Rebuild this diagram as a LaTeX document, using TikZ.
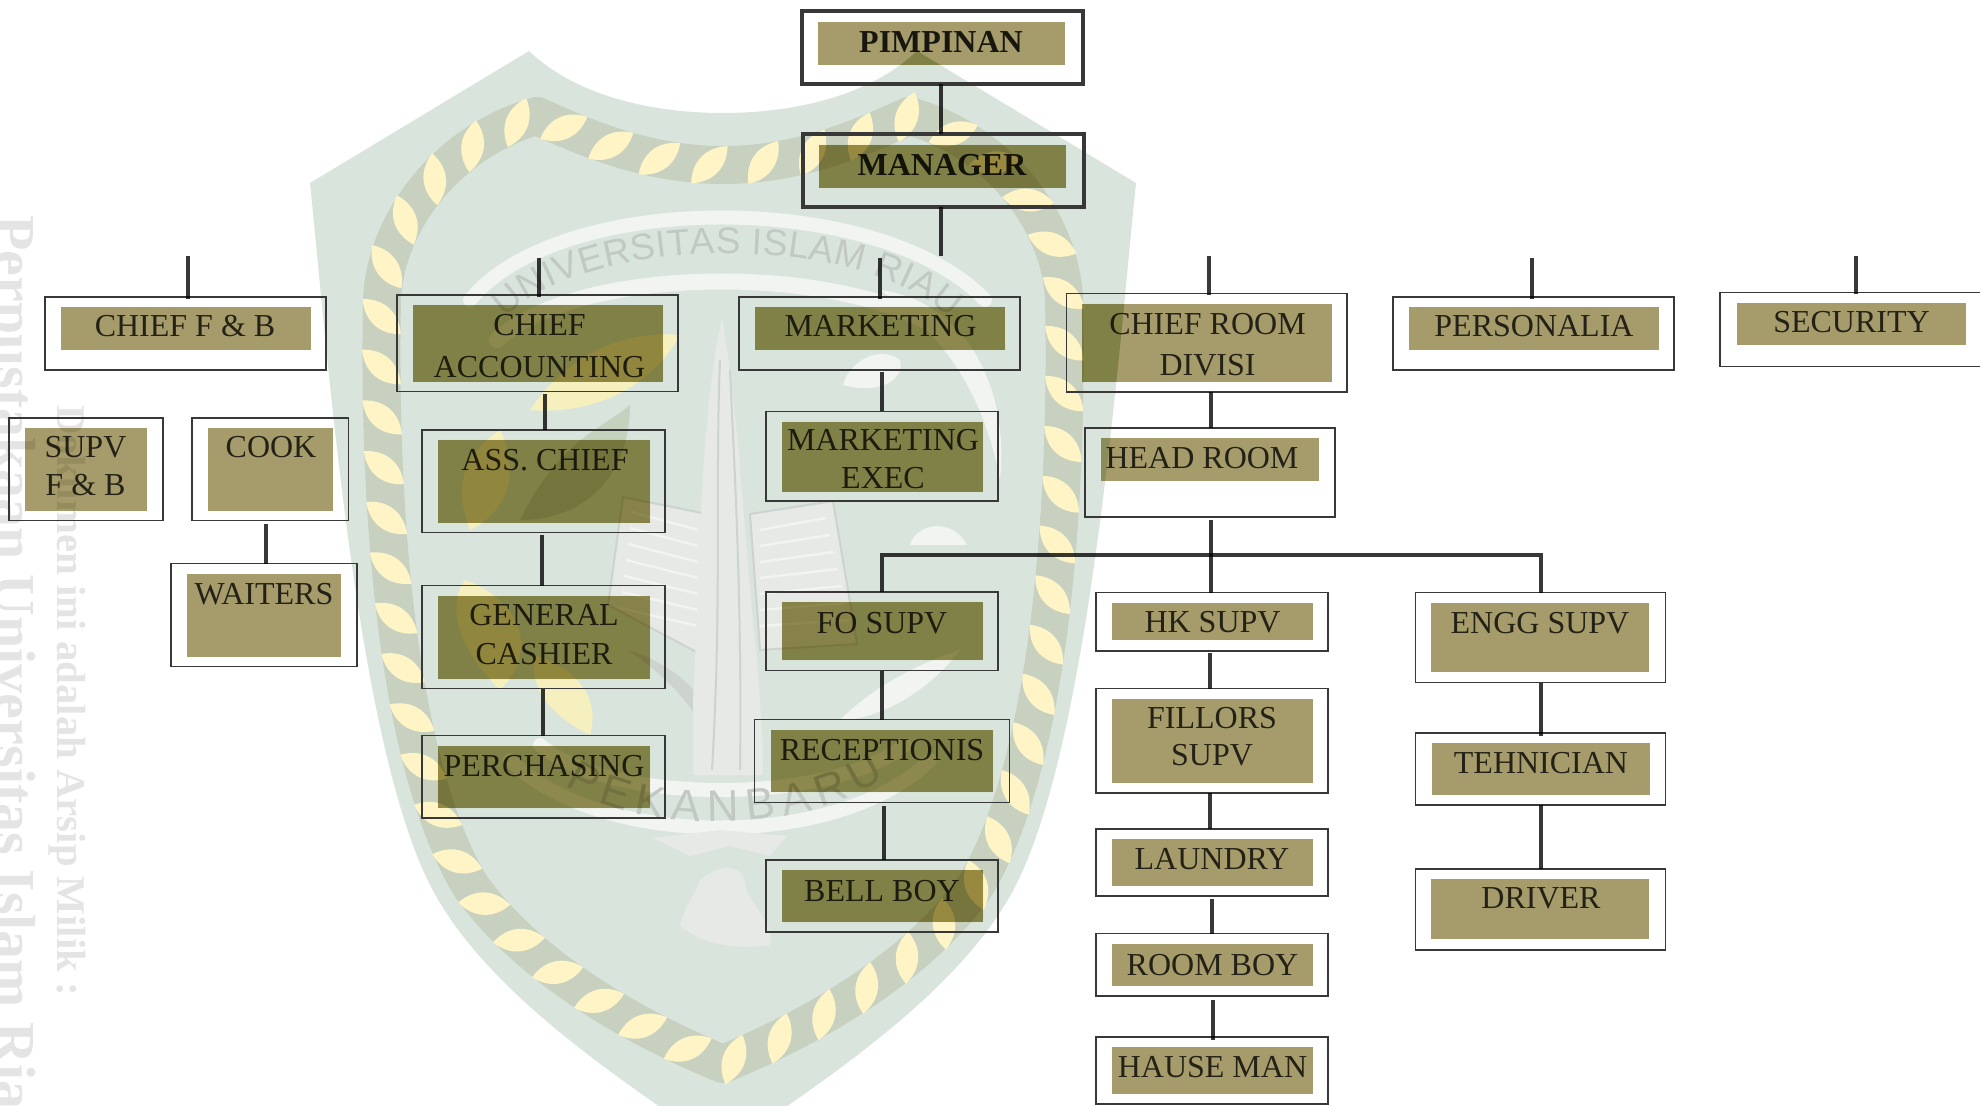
\documentclass[tikz,border=0pt]{standalone}
\usepackage{fontspec}
\setmainfont{Liberation Serif}
\newfontfamily\wmfont{Liberation Sans}
\usetikzlibrary{fit,decorations.text,decorations.markings}
\definecolor{wmgreen}{HTML}{D9E5DC}
\definecolor{wmrim}{HTML}{C8D1C0}
\definecolor{wmbead}{HTML}{FFF4C6}
\definecolor{wmring}{HTML}{F1F4F1}
\definecolor{wmtext}{HTML}{C2C8C2}
\definecolor{wmgrey}{HTML}{E4E4E4}
\definecolor{wmpale}{HTML}{E6E9E6}
\definecolor{wmline}{HTML}{CDD3CE}
\definecolor{wmleaf}{HTML}{F6F0BE}
\definecolor{wmdark}{HTML}{C5D2BE}
\definecolor{boxfill}{HTML}{A69C6B}
\definecolor{deeptone}{HTML}{E8EBC6}
\definecolor{ink}{HTML}{383838}
\tikzset{
  outerbox/.style={draw=ink,line width=0.7pt,inner sep=0pt,outer sep=0pt},
  bossbox/.style={draw=ink,line width=2pt,inner sep=0pt,outer sep=0pt},
  innerfill/.style={fill=boxfill,inner sep=0pt,outer sep=0pt},
  lab/.style={anchor=base,inner sep=0pt,text=ink,font=\fontsize{16}{16}\selectfont},
  bosslab/.style={anchor=base,inner sep=0pt,text=black!85,font=\fontsize{16}{16}\selectfont\bfseries},
  conn/.style={draw=ink,line width=2pt},
  wmvert/.style={anchor=base west,rotate=-90,inner sep=0pt,text=wmgrey},
}
\newcommand{\shieldpath}{(310,183) -- (529,51) .. controls (575,95) and (650,113) .. (723,113)
  .. controls (796,113) and (871,95) .. (917,51) -- (1136,183)
  .. controls (1116,380) and (1086,780) .. (1004,906)
  .. controls (946,1000) and (826,1080) .. (723,1150)
  .. controls (620,1080) and (500,1000) .. (442,906)
  .. controls (360,780) and (330,380) .. (310,183) -- cycle}
\newcommand{\ropepath}{(723,165) .. controls (650,165) and (590,140) .. (537,116)
  .. controls (450,140) and (385,220) .. (382,300)
  .. controls (378,500) and (395,760) .. (470,885)
  .. controls (530,970) and (640,1030) .. (723,1064)
  .. controls (806,1030) and (916,970) .. (976,885)
  .. controls (1051,760) and (1068,500) .. (1064,300)
  .. controls (1061,220) and (996,140) .. (909,116)
  .. controls (856,140) and (796,165) .. (723,165) -- cycle}
\newcommand{\orgbox}[9]{%
  \node[outerbox,fit={(#2,#3)(#4,#5)}] (#1) {};
  \begin{scope}[blend mode=multiply]
    \node[innerfill,fit={(#6,#7)(#8,#9)}] (#1-fill) {};
  \end{scope}}
\newcommand{\bossbox}[9]{%
  \node[bossbox,fit={(#2,#3)(#4,#5)}] (#1) {};
  \begin{scope}[blend mode=multiply]
    \node[innerfill,fit={(#6,#7)(#8,#9)}] (#1-fill) {};
  \end{scope}}
\newcommand{\lab}[4]{\node[lab,xshift=0.5pt,yshift=-0.5pt] (#1) at (#2,#3) {#4};}
\newcommand{\conn}[5]{\draw[conn,shorten <=#4pt,shorten >=#5pt] (#3,0 |- #1.south) -- (#3,0 |- #2.north);}
\newcommand{\stub}[3]{\coordinate (#1-top) at (#2,#3);\draw[conn,shorten >=-1pt] (#1-top) -- (#1-top |- #1.north);}
\newcommand{\rr}[1]{(#1-fill.north west) rectangle (#1-fill.south east)}
\begin{document}
\begin{tikzpicture}[x=0.5pt,y=-0.5pt]
\useasboundingbox (0,0) rectangle (1980,1106);
\clip (0,0) rectangle (1980,1106);
% ---- watermark ----
\node[wmvert,font=\fontsize{29}{29}\selectfont\bfseries] (wmlib) at (-4,215) {Perpustakaan Universitas Islam Riau};
\node[wmvert,font=\fontsize{20.4}{20.4}\selectfont\bfseries] (wmdoc) at (57,405) {Dokumen ini adalah Arsip Milik :};
\fill[wmgreen] \shieldpath;
\draw[wmrim,line width=19pt,line join=round] \ropepath;
\path[decoration={markings,mark=between positions 0.005 and 0.995 step 0.0185 with {\fill[wmbead,rotate=48] (-26,0) .. controls (-10,-15) and (10,-15) .. (26,0) .. controls (10,15) and (-10,15) .. (-26,0) -- cycle;}},decorate] \ropepath;
% white arcs
\draw[wmring,line width=7pt,line cap=round] (470,300) .. controls (560,190) and (880,190) .. (985,300);
\draw[wmring,line width=8pt,line cap=round] (497,340) .. controls (580,262) and (860,262) .. (955,340);
\draw[wmring,line width=7pt,line cap=round] (510,760) .. controls (600,850) and (840,850) .. (930,760);
\draw[wmring,line width=7pt,line cap=round] (540,745) .. controls (610,805) and (830,805) .. (905,745);
% leaves (left side)
\fill[wmleaf] (530,410) .. controls (570,350) and (630,330) .. (680,335) .. controls (650,390) and (590,415) .. (530,410) -- cycle;
\fill[wmdark] (520,520) .. controls (560,440) and (600,430) .. (630,405) .. controls (630,470) and (590,520) .. (520,520) -- cycle;
\fill[wmleaf] (470,530) .. controls (450,480) and (470,450) .. (500,430) .. controls (520,470) and (510,510) .. (470,530) -- cycle;
\fill[wmleaf] (500,690) .. controls (450,640) and (450,600) .. (465,580) .. controls (520,600) and (540,650) .. (500,690) -- cycle;
\fill[wmleaf] (590,735) .. controls (540,710) and (530,680) .. (535,655) .. controls (580,670) and (600,700) .. (590,735) -- cycle;
% crescent, clouds (right side)
\fill[wmring] (880,290) .. controls (960,300) and (1010,380) .. (1000,480) .. controls (985,400) and (950,340) .. (880,290) -- cycle;
\fill[wmring] (843,385) .. controls (850,360) and (880,345) .. (900,360) .. controls (905,380) and (880,395) .. (843,385) -- cycle;
\fill[wmring] (910,545) .. controls (915,525) and (950,515) .. (967,545) -- cycle;
% book
\fill[wmpale,draw=wmline,line width=1pt] (623,497) -- (707,514) -- (702,655) -- (608,605) -- cycle;
\fill[wmpale,draw=wmline,line width=1pt] (750,514) -- (833,501) -- (857,644) -- (760,650) -- cycle;
\foreach \k in {0,...,6}{
  \draw[wmring,line width=1.2pt] (632-2*\k,512+16*\k) -- (698,530+16*\k);
  \draw[wmring,line width=1.2pt] (760,530+16*\k) -- (826+4*\k,518+17*\k);
}
% swoosh
\fill[wmline] (628,650) .. controls (660,660) and (690,680) .. (700,700) -- (695,715) .. controls (680,690) and (650,665) .. (628,650) -- cycle;
\fill[wmring] (840,720) .. controls (880,680) and (930,660) .. (960,650) .. controls (930,690) and (880,720) .. (840,720) -- cycle;
% flame
\fill[wmpale] (722,318) .. controls (700,420) and (700,560) .. (695,660) .. controls (692,700) and (693,740) .. (693,775) -- (763,775) .. controls (763,740) and (760,700) .. (757,660) .. controls (745,560) and (740,420) .. (722,318) -- cycle;
\draw[wmline,line width=1pt] (720,360) .. controls (715,480) and (722,600) .. (712,770);
\draw[wmline,line width=1pt] (730,370) .. controls (735,480) and (742,600) .. (740,770);
% bird
\fill[wmpale] (653,838) -- (720,830) -- (787,836) -- (770,856) -- (730,846) -- (690,856) -- cycle;
\fill[wmpale] (700,880) .. controls (720,862) and (745,865) .. (745,885) .. controls (750,905) and (775,925) .. (770,945) .. controls (740,950) and (700,945) .. (680,925) .. controls (685,905) and (695,895) .. (700,880) -- cycle;
% arc texts
\path[decoration={text along path,text align={fit to path},text={|\wmfont\fontsize{18.5}{18.5}\selectfont\color{wmtext}|UNIVERSITAS ISLAM RIAU}},decorate]
  (505,318) .. controls (590,232) and (860,232) .. (950,318);
\path[decoration={text along path,text align={fit to path},text={|\wmfont\fontsize{22}{22}\selectfont\color{wmtext}|PEKANBARU}},decorate]
  (565,785) .. controls (640,835) and (800,835) .. (885,778);
% ---- boxes ----
\bossbox{pimpinan}{802}{11}{1083}{84}{818}{22}{1065}{65}
\bossbox{manager}{803}{134}{1084}{207}{819}{145}{1066}{188}
\orgbox{cfb}{45}{297}{326}{370}{61}{307}{311}{350}
\orgbox{cacc}{397}{295}{678}{391.5}{413}{305}{663}{382}
\orgbox{mkt}{739}{297}{1020}{370}{755}{307}{1005}{350}
\orgbox{croom}{1066.5}{293.5}{1347}{392}{1082}{304}{1332}{382}
\orgbox{pers}{1393}{297}{1674}{370}{1409}{307}{1659}{350}
\orgbox{sec}{1720}{292.5}{1995}{366.5}{1737}{303}{1966}{345.5}
\orgbox{supv}{9}{418}{163}{520.5}{25}{428}{147}{511}
\orgbox{cook}{192}{418}{348.5}{520.5}{208}{428}{333}{511}
\orgbox{wait}{171}{563.5}{357}{666.5}{187}{574}{341}{657}
\orgbox{ass}{422}{430}{665}{532.5}{438}{440}{650}{523}
\orgbox{gen}{422}{585.5}{665}{688.5}{438}{596}{650}{679}
\orgbox{perch}{422}{735.5}{665}{818}{438}{746}{650}{808}
\orgbox{mexec}{766}{411.5}{998}{501}{782}{422}{983}{492}
\orgbox{fo}{766}{592}{998}{670.5}{782}{602}{983}{660}
\orgbox{recep}{754.5}{719.5}{1009.5}{802.5}{771}{730}{993}{792}
\orgbox{bell}{766}{860}{998}{932}{782}{870}{983}{922}
\orgbox{head}{1085}{428}{1335}{517}{1101}{438}{1319}{481}
\orgbox{hk}{1096}{592.5}{1328}{651}{1112}{603}{1313}{640}
\orgbox{fill}{1096}{688.5}{1328}{793}{1112}{699}{1313}{783}
\orgbox{laun}{1096}{829}{1328}{896}{1112}{839}{1313}{886}
\orgbox{room}{1096}{933.5}{1328}{996}{1112}{944}{1313}{986}
\orgbox{hause}{1096}{1037}{1328}{1104}{1112}{1047}{1313}{1094}
\orgbox{engg}{1415.5}{592.5}{1665.5}{682.5}{1431}{603}{1649}{672}
\orgbox{tehn}{1415.5}{733}{1665.5}{805}{1432}{743}{1650}{795}
\orgbox{driv}{1415.5}{869}{1665.5}{950}{1431}{879}{1649}{939}
% deeper tone where the fills lie on the shield
\begin{scope}[blend mode=multiply]
  \clip \rr{pimpinan} \rr{manager} \rr{cacc} \rr{mkt} \rr{croom} \rr{ass} \rr{gen} \rr{perch} \rr{mexec} \rr{fo} \rr{recep} \rr{bell} \rr{supv};
  \fill[deeptone] \shieldpath;
\end{scope}
% ---- connectors and labels ----
\begin{scope}[blend mode=multiply]
\conn{pimpinan}{manager}{940.5}{0}{0}
\coordinate (mgr-end) at (940.5,256);
\draw[conn] (mgr-end |- manager.south) -- (mgr-end);
\stub{cfb}{187.5}{256}
\stub{cacc}{539}{258.5}
\stub{mkt}{880}{258.5}
\stub{croom}{1208.5}{256.5}
\stub{pers}{1531.5}{258.5}
\stub{sec}{1855.5}{256.5}
\conn{cook}{wait}{266}{2}{0}
\conn{cacc}{ass}{545}{1.2}{0}
\conn{ass}{gen}{542}{1.5}{0}
\conn{gen}{perch}{543}{0}{0}
\conn{mkt}{mexec}{882}{1}{0}
\conn{fo}{recep}{882}{0}{0}
\conn{recep}{bell}{884}{1.5}{0}
\conn{croom}{head}{1211}{0}{0}
\conn{hk}{fill}{1210}{1.2}{0}
\conn{fill}{laun}{1210}{0}{0}
\conn{laun}{room}{1212}{1.5}{0}
\conn{room}{hause}{1213}{2}{-1.5}
\conn{engg}{tehn}{1540.5}{0}{-1.5}
\conn{tehn}{driv}{1541}{0}{0}
\coordinate (bus-l) at (882,555);
\coordinate (bus-r) at (1541,555);
\coordinate (bus-m) at (1211,555);
\draw[conn,line join=miter] (bus-l |- fo.north) -- (bus-l) -- (bus-r) -- (bus-r |- engg.north);
\draw[conn,shorten <=1.5pt] (bus-m |- head.south) -- (bus-m |- hk.north);
\node[bosslab,yshift=-0.5pt] (t-pimpinan) at (941,52) {PIMPINAN};
\node[bosslab,yshift=-0.5pt] (t-manager) at (942,175) {MANAGER};
\lab{t-cfb}{184}{336}{CHIEF F \& B}
\lab{t-cacc1}{538.5}{335}{CHIEF}
\lab{t-cacc2}{538.5}{377}{ACCOUNTING}
\lab{t-mkt}{879.5}{336}{MARKETING}
\lab{t-croom1}{1206.5}{334}{CHIEF ROOM}
\lab{t-croom2}{1206.5}{375}{DIVISI}
\lab{t-pers}{1533}{336}{PERSONALIA}
\lab{t-sec}{1850.5}{332}{SECURITY}
\lab{t-supv1}{84.5}{456.5}{SUPV}
\lab{t-supv2}{84.5}{494.5}{F \& B}
\lab{t-cook}{270}{457}{COOK}
\lab{t-wait}{263}{603}{WAITERS}
\lab{t-ass}{544}{470}{ASS. CHIEF}
\lab{t-gen1}{543}{624.5}{GENERAL}
\lab{t-gen2}{543}{663}{CASHIER}
\lab{t-perch}{543}{775}{PERCHASING}
\lab{t-mexec1}{882}{450}{MARKETING}
\lab{t-mexec2}{882}{488}{EXEC}
\lab{t-fo}{881}{632}{FO SUPV}
\lab{t-recep}{881}{759}{RECEPTIONIS}
\lab{t-bell}{881}{900}{BELL BOY}
\lab{t-head}{1201}{467.5}{HEAD ROOM}
\lab{t-hk}{1211.5}{631}{HK SUPV}
\lab{t-fill1}{1211}{727}{FILLORS}
\lab{t-fill2}{1211}{764}{SUPV}
\lab{t-laun}{1211}{868}{LAUNDRY}
\lab{t-room}{1211.5}{974}{ROOM BOY}
\lab{t-hause}{1211.5}{1076}{HAUSE MAN}
\lab{t-engg}{1539}{632}{ENGG SUPV}
\lab{t-tehn}{1540}{772}{TEHNICIAN}
\lab{t-driv}{1540}{907.5}{DRIVER}
\end{scope}
\end{tikzpicture}
\end{document}
